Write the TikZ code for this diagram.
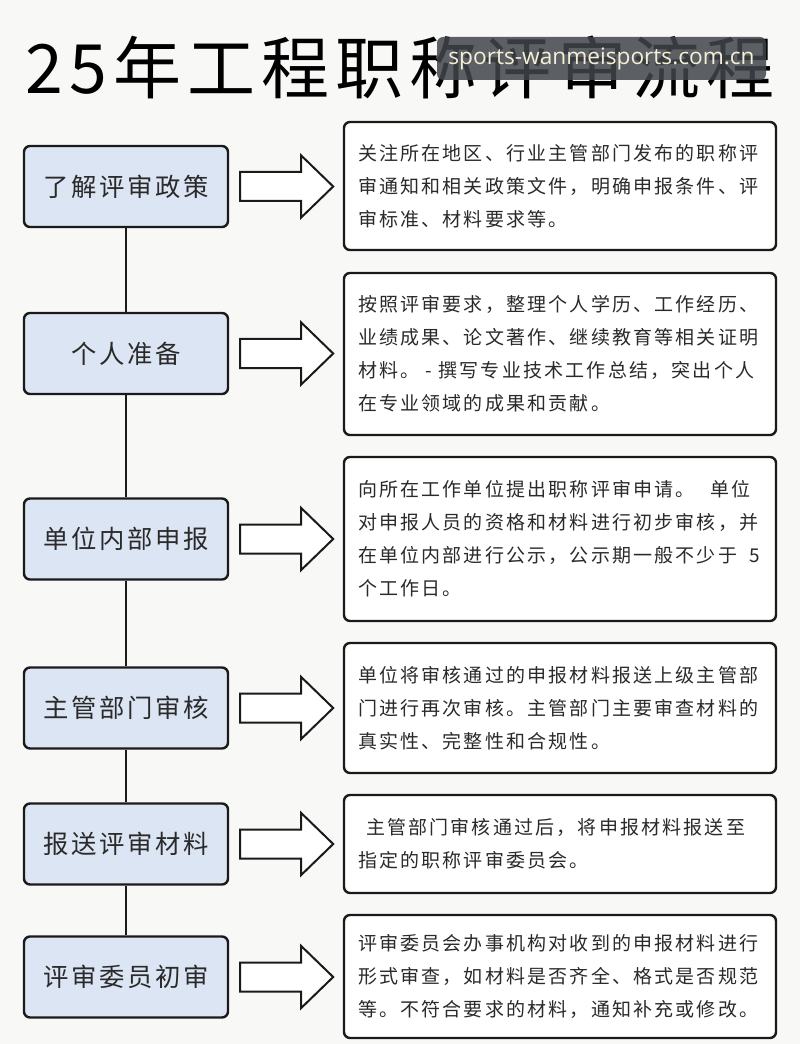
\documentclass[tikz,border=0pt]{standalone}
\usepackage{fontspec}
\usetikzlibrary{calc}
\newfontfamily\cjkT[LetterSpace=9]{Noto Sans CJK SC}
\newfontfamily\cjkL[LetterSpace=11]{Noto Sans CJK SC}
\newfontfamily\cjkR[LetterSpace=11.5]{Noto Sans CJK SC}
\newfontfamily\wmfont{Open Sans}
\definecolor{bg}{HTML}{F8F8F6}
\definecolor{lfill}{HTML}{DCE5F3}
\definecolor{edge}{HTML}{1A1A1A}
\definecolor{txt}{HTML}{2A2A2A}
\definecolor{wmgray}{HTML}{41464C}
\definecolor{wmtext}{HTML}{F4EFD6}
\tikzset{
  leftbox/.style={draw=edge, line width=1.8pt, fill=lfill, rounded corners=4.5pt,
    minimum width=204*0.75pt, minimum height=81*0.75pt, inner sep=0pt,
    text=txt, font=\cjkL\fontsize{19pt}{22pt}\selectfont},
  rightbox/.style={draw=edge, line width=1.8pt, fill=white, rounded corners=4.5pt,
    minimum width=432*0.75pt, inner xsep=0pt, inner ysep=0pt, align=left,
    text width=404*0.75pt, text=txt, font=\cjkR\fontsize{14.25pt}{24.75pt}\selectfont},
  vline/.style={draw=edge, line width=1.5pt},
  barrow/.style={draw=edge, line width=1.5pt, fill=white, line join=miter}
}
\newcommand\blockarrow[1]{\draw[barrow,shift={(#1)}] (-46.5,-14.5) -- (14.5,-14.5) -- (14.5,-31) -- (46.5,0) -- (14.5,31) -- (14.5,14.5) -- (-46.5,14.5) -- cycle;}
\begin{document}
\begin{tikzpicture}[x=0.75pt,y=-0.75pt]
\path[use as bounding box, fill=bg] (0,0) rectangle (800,1044);

% title
\node (title) at (400,67) [inner sep=0pt, font=\cjkT\fontsize{51pt}{51pt}\selectfont, text=black] {25年工程职称评审流程};
\node (wm) at (601.5,58.5) [fill=wmgray, fill opacity=0.85, text opacity=1, rounded corners=4.5pt,
  minimum width=329*0.75pt, minimum height=43*0.75pt, inner sep=0pt, text=wmtext,
  font=\wmfont\fontsize{17pt}{17pt}\selectfont] {sports-wanmeisports.com.cn};

% left boxes
\node[leftbox] (l1) at (126,186.5) {了解评审政策};
\node[leftbox] (l2) at (126,353.5) {个人准备};
\node[leftbox] (l3) at (126,539) {单位内部申报};
\node[leftbox] (l4) at (126,708) {主管部门审核};
\node[leftbox] (l5) at (126,844) {报送评审材料};
\node[leftbox] (l6) at (126,977) {评审委员初审};

% vertical connectors
\draw[vline] (l1.south) -- (l2.north);
\draw[vline] (l2.south) -- (l3.north);
\draw[vline] (l3.south) -- (l4.north);
\draw[vline] (l4.south) -- (l5.north);
\draw[vline] (l5.south) -- (l6.north);

% right boxes
\node[rightbox, minimum height=128*0.75pt] (r1) at (560,186) {关注所在地区、行业主管部门发布的职称评\\审通知和相关政策文件，明确申报条件、评\\审标准、材料要求等。};
\node[rightbox, minimum height=162*0.75pt] (r2) at (560,354) {按照评审要求，整理个人学历、工作经历、\\业绩成果、论文著作、继续教育等相关证明\\材料。 - 撰写专业技术工作总结，突出个人\\在专业领域的成果和贡献。};
\node[rightbox, minimum height=164*0.75pt] (r3) at (560,539) {向所在工作单位提出职称评审申请。\hspace*{12pt}单位\\对申报人员的资格和材料进行初步审核，并\\在单位内部进行公示，公示期一般不少于\hspace*{9pt}5\\个工作日。};
\node[rightbox, minimum height=130*0.75pt] (r4) at (560,708) {单位将审核通过的申报材料报送上级主管部\\门进行再次审核。主管部门主要审查材料的\\真实性、完整性和合规性。};
\node[rightbox, minimum height=98*0.75pt] (r5) at (560,844) {\hspace*{6pt}主管部门审核通过后，将申报材料报送至\\指定的职称评审委员会。};
\node[rightbox, minimum height=123*0.75pt] (r6) at (560,976.5) {评审委员会办事机构对收到的申报材料进行\\形式审查，如材料是否齐全、格式是否规范\\等。不符合要求的材料，通知补充或修改。};

% block arrows
\foreach \i in {1,...,6}{
  \coordinate (a\i) at ($(l\i.east)+(57.5,0)$);
  \blockarrow{a\i}
}
\end{tikzpicture}
\end{document}
